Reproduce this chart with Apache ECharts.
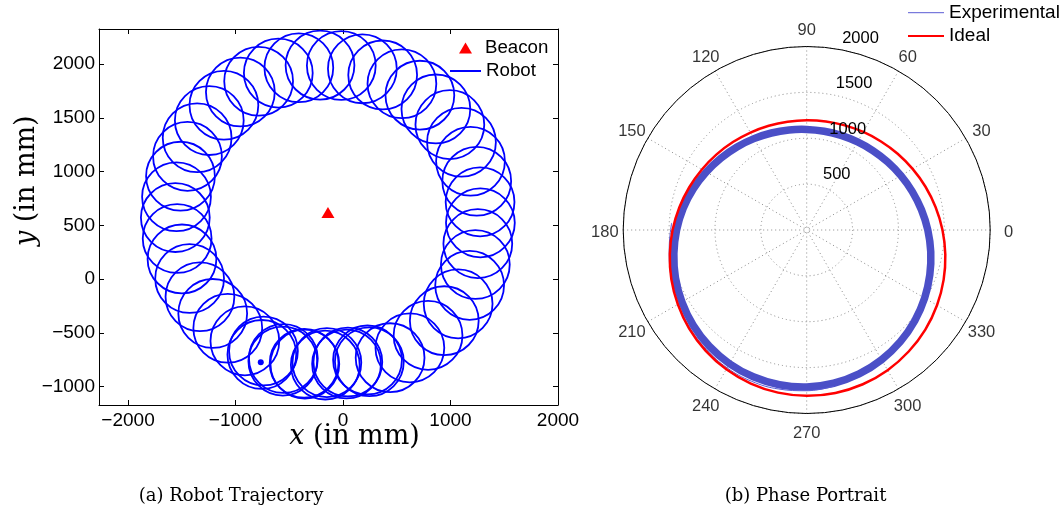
<!DOCTYPE html>
<html>
<head>
<meta charset="utf-8">
<script src="https://cdn.jsdelivr.net/npm/echarts@6/dist/echarts.min.js"></script>
<style>
  html, body { margin: 0; padding: 0; background: #fff; }
  #chart { width: 1063px; height: 512px; }
</style>
</head>
<body>
<div id="chart"></div>
<script>
// ---- (a) Robot trajectory: centres of the successive loops (mm) ----
const loopCenterX = [-740, -555, -362, -165, 33, 228, 438, 622, 791, 942, 1071, 1178, 1231, 1254, 1278,
  1275, 1244, 1186, 1102, 994, 864, 715, 548, 369, 180, -16, -214, -411, -602, -785, -955, -1108,
  -1244, -1357, -1447, -1512, -1549, -1560, -1543, -1498, -1427, -1331, -1212, -1072, -913,
  -755, -560, -355, -150, 45, 245];
const loopCenterY = [-668, -738, -782, -799, -789, -751, -730, -639, -523, -386, -230, -58, 136, 330, 523,
  718, 910, 1096, 1272, 1436, 1582, 1710, 1816, 1898, 1955, 1986, 1989, 1965, 1915, 1839, 1739, 1616,
  1474, 1314, 1141, 957, 766, 572, 378, 188, 6, -164, -319, -457, -574,
  -700, -762, -790, -776, -770, -768];
const loopRadius = 320;
const beaconPos = [-140, 620];
const robotStart = [-765, -772];

// ---- (b) Phase portrait: radius (mm) against bearing (deg), one closed lap ----
const polarAngle = [0, 10, 20, 30, 40, 50, 60, 70, 80, 90, 100, 110, 120, 130, 140, 150, 160, 170, 180,
  190, 200, 210, 220, 230, 240, 250, 260, 270, 280, 290, 300, 310, 320, 330, 340, 350];
const idealRadius = [1480, 1427, 1378, 1333, 1294, 1260, 1234, 1214, 1202, 1197, 1199, 1209, 1226,
  1251, 1282, 1319, 1362, 1410, 1462, 1515, 1570, 1622, 1672, 1716, 1753, 1781, 1800, 1807,
  1803, 1789, 1764, 1729, 1688, 1640, 1588, 1534];
const experimentalRadius = [1320, 1270, 1225, 1186, 1153, 1127, 1108, 1097, 1093, 1096, 1107, 1125, 1150,
  1182, 1220, 1264, 1314, 1367, 1418, 1470, 1522, 1570, 1615, 1653, 1683, 1703, 1713, 1712,
  1696, 1669, 1632, 1588, 1538, 1484, 1428, 1373];
// initial transient of the experimental run
const transientAngle = [177, 185, 190, 200, 210, 220, 230, 240, 250, 260, 270, 280];
const transientRadius = [1474, 1502, 1522, 1568, 1612, 1660, 1700, 1735, 1755, 1760, 1752, 1728];

const radiusTicks = [0, 500, 1000, 1500, 2000];
const bearingTicks = [0, 30, 60, 90, 120, 150, 180, 210, 240, 270, 300, 330];
const bearingLabelRadius = 2200;   // bearing labels sit just outside the 2000 ring

const FONT = 'Liberation Sans, Arial, Helvetica, sans-serif';
const SERIF = 'DejaVu Serif, serif';
const minusFmt = v => (v < 0 ? '\u2212' + Math.abs(v) : String(v));

const loops = loopCenterX.map((x, i) => [x, loopCenterY[i], loopRadius]);
const toPolar = (rs, as) => rs.map((r, i) => [r, as[i]]);

// A closed lap in the polar plot, drawn as one smooth loop through its (radius, bearing) samples.
function closedLap(name, radii, angles, stroke, width, z) {
  return {
    name: name, type: 'custom', coordinateSystem: 'polar', polarIndex: 0, z: z,
    data: toPolar(radii, angles), encode: { radius: 0, angle: 1 },
    itemStyle: { color: stroke },
    renderItem: function (params, api) {
      if (params.dataIndex !== 0) return null;
      const pts = radii.map((r, i) => api.coord([r, angles[i]]));
      return {
        type: 'polygon', silent: true,
        shape: { points: pts, smooth: 0.33 },
        style: { fill: 'none', stroke: stroke, lineWidth: width, lineJoin: 'round' }
      };
    }
  };
}

const boxAxis = {
  type: 'value',
  axisLine: { show: true, onZero: false, lineStyle: { color: '#000', width: 1 } },
  axisTick: { show: true, inside: true, length: 5, lineStyle: { color: '#000', width: 1 } },
  splitLine: { show: false }
};

const legendText = size => ({ fontSize: size, fontFamily: FONT, color: '#000', lineHeight: 20 });

const chart = echarts.init(document.getElementById('chart'), null, { renderer: 'canvas' });

chart.setOption({
  animation: false,
  backgroundColor: '#fff',
  grid: { left: 99, top: 29, width: 459, height: 376, containLabel: false },
  xAxis: [
    Object.assign({}, boxAxis, {
      position: 'bottom', min: -2270, max: 2000, splitNumber: 4,
      axisLabel: { show: true, margin: 6, fontSize: 19, fontFamily: FONT, color: '#000',
        showMinLabel: false, formatter: minusFmt }
    }),
    Object.assign({}, boxAxis, {
      position: 'top', min: -2270, max: 2000, splitNumber: 4, axisLabel: { show: false }
    })
  ],
  yAxis: [
    Object.assign({}, boxAxis, {
      position: 'left', min: -1170, max: 2325, splitNumber: 7,
      axisLabel: { show: true, margin: 4, fontSize: 19, fontFamily: FONT, color: '#000',
        showMinLabel: false, showMaxLabel: false, formatter: minusFmt }
    }),
    Object.assign({}, boxAxis, {
      position: 'right', min: -1170, max: 2325, splitNumber: 7, axisLabel: { show: false }
    })
  ],
  polar: [
    { center: [806.7, 230], radius: 183.5 },
    { center: [806.7, 230], radius: 183.5 }
  ],
  angleAxis: [
    {
      polarIndex: 0, type: 'value', min: 0, max: 360, interval: 30,
      startAngle: 0, clockwise: false,
      axisLine: { show: true, lineStyle: { color: '#000', width: 1 } },
      axisTick: { show: false },
      axisLabel: { show: false },
      splitLine: { show: true, lineStyle: { color: '#8a8a8a', width: 1, type: [1, 3] } }
    },
    {
      polarIndex: 1, type: 'value', min: 0, max: 360, startAngle: 82, clockwise: false,
      show: false
    }
  ],
  radiusAxis: [
    {
      polarIndex: 0, type: 'value', min: radiusTicks[0], max: radiusTicks[radiusTicks.length - 1],
      interval: 500,
      axisLine: { show: false }, axisTick: { show: false }, axisLabel: { show: false },
      splitLine: { show: true, lineStyle: { color: '#8a8a8a', width: 1, type: [1, 3] } }
    },
    {
      polarIndex: 1, type: 'value', min: radiusTicks[0], max: radiusTicks[radiusTicks.length - 1],
      interval: 500, z: 10,
      axisLine: { show: false }, axisTick: { show: false }, splitLine: { show: false },
      axisLabel: { show: true, margin: -10, align: 'left', verticalAlign: 'bottom',
        padding: [0, 0, 3, 0],
        fontSize: 16.5, fontFamily: FONT, color: '#000',
        formatter: v => (v === 0 ? '' : String(v)) }
    }
  ],
  legend: [
    {
      data: [{ name: 'Beacon', icon: 'triangle' }],
      orient: 'vertical', left: 459, top: 38, padding: 0,
      itemWidth: 13, itemHeight: 11,
      textStyle: Object.assign(legendText(18.7), { padding: [0, 0, 0, 8] })
    },
    {
      data: [{ name: 'Robot', itemStyle: { opacity: 0 } }],
      orient: 'vertical', left: 449, top: 61, padding: 0,
      itemWidth: 31, itemHeight: 11,
      textStyle: legendText(18.7)
    },
    {
      data: [
        { name: 'Experimental', itemStyle: { opacity: 0 }, lineStyle: { width: 1 } },
        { name: 'Ideal', itemStyle: { opacity: 0 } }
      ],
      orient: 'vertical', left: 907, top: 2.7, padding: 0,
      itemWidth: 36, itemHeight: 10, itemGap: 3.3,
      textStyle: legendText(19)
    }
  ],
  graphic: [
    {
      type: 'text', x: 354.5, y: 437, silent: true,
      style: {
        text: '{i|x} (in mm)', fill: '#000', font: '27px ' + SERIF,
        align: 'center', verticalAlign: 'middle',
        rich: { i: { fontStyle: 'italic', fontSize: 27, fontFamily: SERIF } }
      }
    },
    {
      type: 'text', x: 26.8, y: 180.7, rotation: Math.PI / 2, silent: true,
      style: {
        text: '{i|y} (in mm)', fill: '#000', font: '27px ' + SERIF,
        align: 'center', verticalAlign: 'middle',
        rich: { i: { fontStyle: 'italic', fontSize: 27, fontFamily: SERIF } }
      }
    },
    {
      type: 'text', x: 231, y: 496, silent: true,
      style: { text: '(a) Robot Trajectory', fill: '#000', font: '18px ' + SERIF,
        align: 'center', verticalAlign: 'middle' }
    },
    {
      type: 'text', x: 805.5, y: 496, silent: true,
      style: { text: '(b) Phase Portrait', fill: '#000', font: '18px ' + SERIF,
        align: 'center', verticalAlign: 'middle' }
    }
  ],
  series: [
    {
      name: 'Robot', type: 'line', xAxisIndex: 0, yAxisIndex: 0, data: [],
      symbol: 'none', lineStyle: { color: '#0000ff', width: 1.8 }, itemStyle: { color: '#0000ff' }
    },
    {
      name: 'Beacon', type: 'scatter', xAxisIndex: 0, yAxisIndex: 0,
      data: [beaconPos], symbol: 'triangle', symbolSize: [13, 11],
      itemStyle: { color: '#ff0000', opacity: 1 }, z: 5
    },
    {
      name: 'Robot', type: 'custom', xAxisIndex: 0, yAxisIndex: 0, clip: true,
      data: loops, encode: { x: 0, y: 1 },
      itemStyle: { color: '#0000ff' },
      renderItem: function (params, api) {
        const c = api.coord([api.value(0), api.value(1)]);
        const s = api.size([api.value(2), api.value(2)]);
        return {
          type: 'ellipse', silent: true,
          shape: { cx: c[0], cy: c[1], rx: s[0], ry: s[1] },
          style: { fill: 'none', stroke: '#0000ff', lineWidth: 1.8 }
        };
      }
    },
    {
      name: 'Start', type: 'scatter', xAxisIndex: 0, yAxisIndex: 0,
      data: [robotStart], symbol: 'circle', symbolSize: 6,
      itemStyle: { color: '#0000ff', opacity: 1 }, z: 6
    },
    {
      name: 'Bearing', type: 'scatter', coordinateSystem: 'polar', polarIndex: 0, clip: false,
      data: bearingTicks.map(a => [bearingLabelRadius, a]),
      symbol: 'circle', symbolSize: 0, silent: true,
      itemStyle: { color: 'rgba(0,0,0,0)' },
      label: { show: true, position: 'inside', offset: [0, 2], formatter: p => String(p.value[1]),
        fontSize: 16.5, fontFamily: FONT, color: '#000' }
    },
    {
      name: 'Experimental', type: 'line', coordinateSystem: 'polar', polarIndex: 0,
      data: toPolar(transientRadius, transientAngle), smooth: 0.4, symbol: 'none',
      lineStyle: { color: '#5b5cd4', width: 1 }, itemStyle: { color: '#5b5cd4' }, z: 3
    },
    {
      name: 'Ideal', type: 'line', coordinateSystem: 'polar', polarIndex: 0, data: [],
      symbol: 'none', lineStyle: { color: '#ff0000', width: 2.5 }, itemStyle: { color: '#ff0000' }
    },
    closedLap('Experimental', experimentalRadius, polarAngle, '#4b4fc7', 7.5, 3),
    closedLap('Ideal', idealRadius, polarAngle, '#ff0000', 2.5, 4)
  ]
});
</script>
</body>
</html>
